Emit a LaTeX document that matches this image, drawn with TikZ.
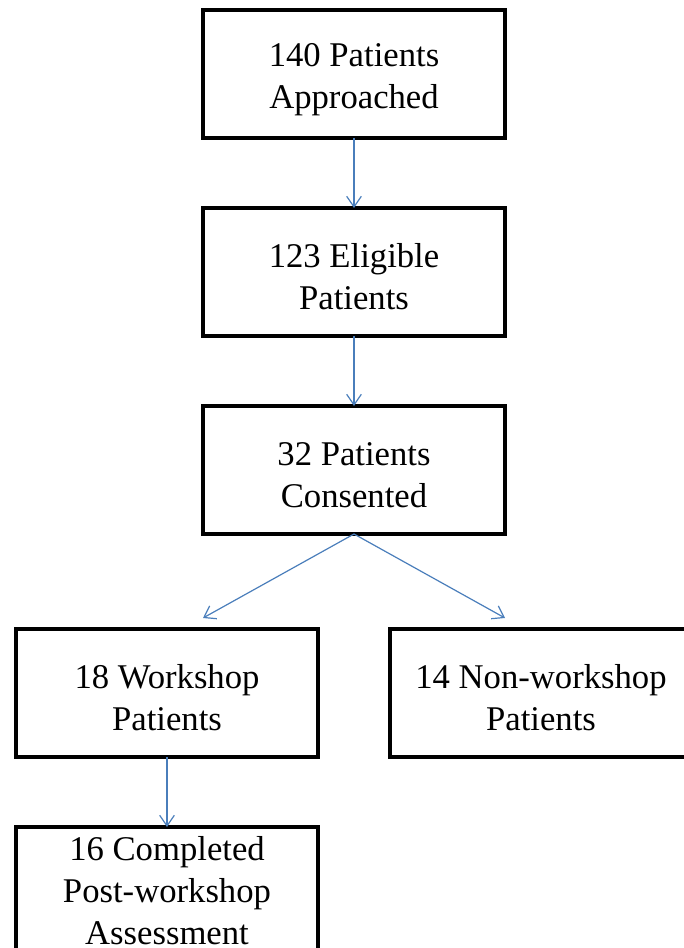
\documentclass[tikz,border=0pt]{standalone}
\usepackage{fontspec}
\setmainfont{Liberation Serif}
\usetikzlibrary{arrows.meta}
\definecolor{arrowblue}{RGB}{74,126,187}

\begin{document}
\begin{tikzpicture}[x=0.75pt,y=-0.75pt,style=thick]
\newcommand{\boxfont}{\fontsize{26}{31.5}\selectfont}
\newcommand{\toppad}{\rule{0pt}{25.5pt}}
\useasboundingbox (0,0) rectangle (683,948);
\begin{scope}[line width=3pt]
\tikzstyle{every node}=[draw,shape=rectangle,outer sep=0pt,align=center,
  minimum width=226.5pt,minimum height=96pt,font=\boxfont]
\node (P_1) at (354,74) {\toppad 140 Patients\\Approached};
\node (P_2) at (354,272) {\toppad 123 Eligible\\Patients};
\node (P_3) at (354,470) {\toppad 32 Patients\\Consented};
\node (P_4) at (167,693) {\toppad 18 Workshop\\Patients};
\node (P_5) at (541,693) {\toppad 14 Non-workshop\\Patients};
\node[inner ysep=0pt] (P_6) at (167,891) {16 Completed\\Post-workshop\\Assessment};
\end{scope}
\coordinate (L) at (203,618);
\coordinate (R) at (505,618);
\begin{scope}[draw=arrowblue,line width=0.9pt,-{Straight Barb[length=8pt,width=11pt]}]
\draw (P_1.south) -- (P_2.north);
\draw (P_2.south) -- (P_3.north);
\draw (P_3.south) -- (L);
\draw (P_3.south) -- (R);
\draw (P_4.south) -- (P_6.north);
\end{scope}
\end{tikzpicture}
\end{document}
